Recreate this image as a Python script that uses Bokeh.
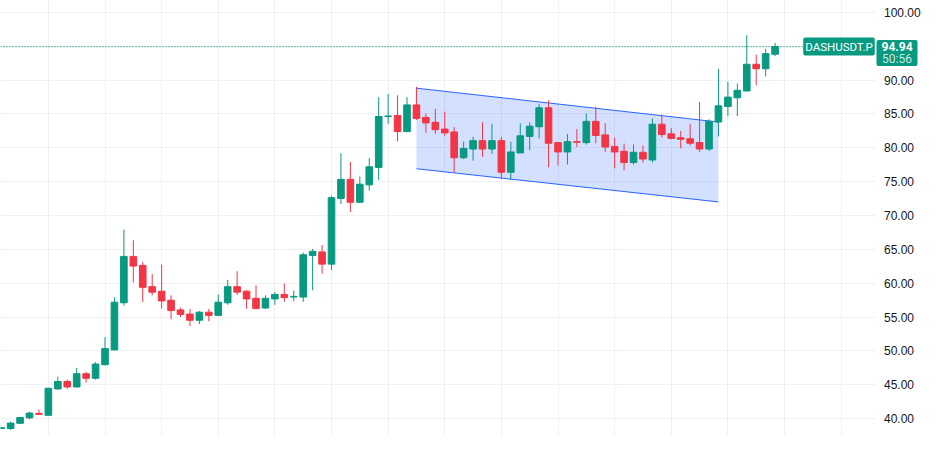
from bokeh.plotting import figure
from bokeh.layouts import row
from bokeh.models import ColumnDataSource, FixedTicker, Span, Label, Range1d
from bokeh.core.properties import value
from bokeh.embed import file_html
from bokeh.resources import INLINE

# ---- data ----
open_ = [38.55, 38.52, 39.30, 40.10, 40.76, 40.48, 44.38, 45.48, 44.67, 46.62,
         45.95, 47.95, 50.14, 57.10, 63.95, 62.62, 59.48, 58.81, 57.48, 56.05,
         55.43, 54.52, 55.71, 55.24, 57.10, 59.48, 58.81, 57.76, 56.33, 57.67,
         58.33, 57.95, 57.95, 64.10, 64.62, 62.81, 72.52, 75.33, 71.95, 74.52,
         77.10, 84.60, 84.76, 82.38, 86.33, 84.48, 83.76, 82.76, 82.33, 78.52,
         79.81, 81.05, 79.81, 81.05, 76.38, 79.24, 81.67, 83.10, 85.90, 80.76,
         79.38, 80.90, 80.76, 83.90, 81.90, 80.19, 79.48, 77.81, 79.33, 78.19,
         83.48, 82.05, 81.48, 81.33, 80.76, 79.81, 83.81, 86.10, 87.38, 88.38,
         92.33, 91.67, 93.81]
high = [38.70, 39.52, 40.20, 41.00, 41.33, 44.50, 46.19, 45.76, 47.48, 46.90,
        48.33, 52.05, 57.90, 67.90, 66.33, 63.10, 61.33, 62.76, 58.19, 56.38,
        56.19, 55.90, 56.19, 58.33, 60.48, 61.76, 58.95, 59.67, 58.19, 58.67,
        59.95, 58.90, 64.52, 65.05, 65.62, 72.90, 79.19, 77.90, 75.76, 78.48,
        87.48, 87.95, 87.76, 87.48, 89.00, 85.05, 85.76, 85.33, 83.05, 80.90,
        81.62, 83.76, 83.52, 81.62, 80.90, 83.62, 83.76, 86.48, 87.00, 80.76,
        82.05, 82.76, 85.05, 86.05, 83.62, 81.48, 80.62, 80.48, 80.33, 84.33,
        84.90, 82.90, 82.48, 83.48, 86.76, 84.19, 91.62, 89.76, 89.48, 96.62,
        93.76, 94.62, 95.48]
low = [38.50, 38.33, 39.25, 39.90, 40.52, 40.45, 44.24, 44.38, 44.60, 45.33,
       45.76, 47.90, 50.10, 56.67, 60.10, 57.24, 58.19, 56.24, 54.67, 55.00,
       53.67, 53.95, 54.38, 55.20, 56.81, 58.24, 56.24, 56.20, 56.19, 56.81,
       57.24, 57.33, 57.24, 58.95, 61.38, 61.95, 71.67, 70.52, 71.90, 73.67,
       75.24, 83.52, 80.95, 82.38, 84.10, 82.19, 82.05, 81.76, 76.33, 78.33,
       78.10, 78.67, 79.10, 75.43, 75.29, 79.24, 79.62, 81.38, 77.10, 77.38,
       77.52, 80.10, 80.48, 80.67, 79.38, 76.95, 76.67, 77.52, 77.81, 77.81,
       81.52, 81.24, 79.90, 80.33, 79.38, 79.52, 81.67, 84.67, 84.67, 88.38,
       89.24, 90.52, 93.52]
close = [38.65, 39.33, 40.15, 40.81, 40.62, 44.48, 45.48, 44.67, 46.62, 45.95,
         48.05, 50.33, 57.19, 63.95, 62.52, 59.38, 58.67, 57.38, 55.95, 55.38,
         54.52, 55.71, 55.24, 57.19, 59.48, 58.67, 57.67, 56.24, 57.76, 58.33,
         57.86, 58.05, 64.19, 64.70, 62.81, 72.62, 75.33, 71.95, 74.62, 77.19,
         84.62, 84.70, 82.38, 86.33, 84.33, 83.67, 82.67, 82.19, 78.52, 79.90,
         81.05, 79.81, 81.05, 76.38, 79.38, 81.76, 83.19, 85.90, 80.67, 79.38,
         80.90, 80.81, 83.90, 81.81, 80.10, 79.38, 77.81, 79.33, 78.33, 83.48,
         81.95, 81.38, 81.24, 80.67, 79.81, 83.90, 86.19, 87.48, 88.48, 92.33,
         91.67, 93.90, 94.94]
bar_index = list(range(len(close)))

channel_x = [44, 76]
channel_upper = [88.8, 83.8]
channel_lower = [76.9, 72.0]

price_ticks = [40, 45, 50, 55, 60, 65, 70, 75, 80, 85, 90, 95, 100]
label_ticks = [40, 45, 50, 55, 60, 65, 70, 75, 80, 85, 90, 100]
time_grid = [5, 11, 17, 23, 29, 35, 41, 47, 53, 59, 65, 71, 77, 83, 89]

symbol = "DASHUSDT.P"
last_price = close[-1]
countdown = "50:56"

# ---- styles ----
UP = "#089981"
DOWN = "#F23645"
CH = "#2962FF"
GRID = "#eff0f3"
TXT = "#131722"

FRAME_W, FRAME_H, SIDE_W = 875, 436, 50
X0, X1 = -0.073, 92.64
Y0, Y1 = 37.35, 101.75
ux = (X1 - X0) / FRAME_W
uy = (Y1 - Y0) / FRAME_H

colors = [UP if c >= o else DOWN for o, c in zip(open_, close)]
src = ColumnDataSource(dict(
    x=bar_index, o=open_, h=high, l=low, c=close,
    top=[max(o, c) for o, c in zip(open_, close)],
    bot=[min(o, c) for o, c in zip(open_, close)],
    col=colors,
))

yr = Range1d(Y0, Y1)

# ---- main price pane ----
p = figure(width=FRAME_W, height=FRAME_H,
           x_range=Range1d(X0, X1), y_range=yr,
           x_axis_location=None, y_axis_location=None, output_backend="svg",
           toolbar_location=None, min_border=0)
p.outline_line_color = None
p.background_fill_color = "white"
p.border_fill_color = "white"
p.xgrid.ticker = FixedTicker(ticks=time_grid)
p.ygrid.ticker = FixedTicker(ticks=price_ticks)
p.xgrid.grid_line_color = GRID
p.ygrid.grid_line_color = GRID

# channel
p.patch(x=[channel_x[0], channel_x[1], channel_x[1], channel_x[0]],
        y=[channel_upper[0], channel_upper[1], channel_lower[1], channel_lower[0]],
        fill_color=CH, fill_alpha=0.2, line_color=None)
p.line(x=channel_x, y=channel_upper, line_color=CH, line_width=1)
p.line(x=channel_x, y=channel_lower, line_color=CH, line_width=1)

# candles
p.segment(x0="x", y0="l", x1="x", y1="h", source=src, line_color="col", line_width=1)
p.vbar(x="x", width=0.7, top="top", bottom="bot", source=src,
       fill_color="col", line_color="col", line_width=1)

# last price line
p.add_layout(Span(location=last_price, dimension="width", line_color=UP,
                  line_dash="1 2", line_width=1.2))

p.add_layout(Label(x=X0 + 838.5 * ux, y=last_price, text=symbol,
                   text_align="center", text_baseline="middle",
                   text_font="Roboto", text_font_size="11.5px", text_color="white",
                   background_fill_color=UP, border_radius=2,
                   padding=dict(left=2, right=2, top=2, bottom=2)))

# ---- price scale pane ----
s = figure(width=SIDE_W, height=FRAME_H, x_range=Range1d(0, SIDE_W), y_range=yr,
           x_axis_location=None, y_axis_location=None, output_backend="svg",
           toolbar_location=None, min_border=0)
s.outline_line_color = None
s.grid.visible = False
s.background_fill_color = "white"
s.border_fill_color = "white"

s.text(x=[8.5] * len(label_ticks), y=label_ticks,
       text=[f"{t:.2f}" for t in label_ticks],
       text_align="left", text_baseline="middle",
       text_font=value("Liberation Sans"), text_font_size="12px", text_color=TXT)

# box (text + padding) is centred on the anchor: shift it so the price sits in the top line
s.add_layout(Label(x=21.5, y=last_price - 6.3 * uy, text=f"{last_price:.2f}",
                   text_align="center", text_baseline="middle",
                   text_font="Roboto", text_font_size="12px", text_font_style="bold",
                   text_color="white",
                   background_fill_color=UP, border_radius=2,
                   padding=dict(left=5, right=5, top=2, bottom=15)))
s.add_layout(Label(x=21.5, y=last_price - 12.5 * uy, text=countdown,
                   text_align="center", text_baseline="middle",
                   text_font="Roboto", text_font_size="12px",
                   text_color="white", text_alpha=0.8))

layout = row(p, s)
open("out.html", "w").write(file_html(layout, INLINE))
